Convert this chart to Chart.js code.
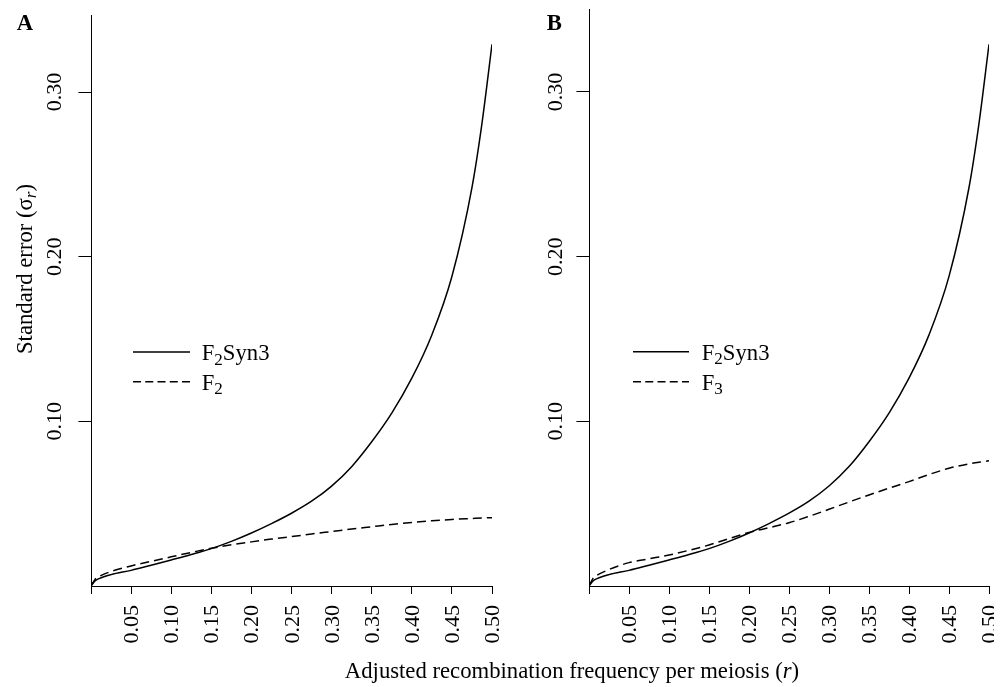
<!DOCTYPE html>
<html><head><meta charset="utf-8">
<script src="https://cdn.jsdelivr.net/npm/chart.js@4.4.1/dist/chart.umd.min.js"></script>
<style>
html,body{margin:0;padding:0;background:#fff;}
#wrap{position:relative;width:1006px;height:687px;overflow:hidden;background:#fff;}
canvas{position:absolute;top:0;}
#xlab{position:absolute;left:272px;width:600px;top:660px;text-align:center;font-family:"Liberation Serif","Times New Roman",serif;font-size:22.7px;line-height:1;color:#000;white-space:nowrap;}
</style></head><body>
<div id="wrap">
<canvas id="cA" width="500" height="687" style="left:0px"></canvas>
<canvas id="cB" width="494" height="687" style="left:500px"></canvas>
<div id="xlab">Adjusted recombination frequency per meiosis (<i>r</i>)</div>
</div>
<script>
// ---- data ----
const rValues = [0, 0.005, 0.01, 0.025, 0.05, 0.075, 0.1, 0.125, 0.15, 0.175, 0.2, 0.225, 0.25, 0.275, 0.3, 0.325, 0.35, 0.375, 0.4, 0.425, 0.45, 0.475, 0.4875, 0.5];
const f2syn3 = [0, 0.0031, 0.0045, 0.0069, 0.0095, 0.0126, 0.0158, 0.0191, 0.0227, 0.0271, 0.0322, 0.0379, 0.0442, 0.0515, 0.0607, 0.0725, 0.0876, 0.1050, 0.1262, 0.1525, 0.1880, 0.2420, 0.2810, 0.3290];
const f2 = [0, 0.0040, 0.0057, 0.0088, 0.0122, 0.0150, 0.0177, 0.0204, 0.0229, 0.0250, 0.0268, 0.0285, 0.0300, 0.0316, 0.0331, 0.0346, 0.0360, 0.0374, 0.0386, 0.0396, 0.0404, 0.0410, 0.0413, 0.0415];
const f3 = [0, 0.0046, 0.0065, 0.0100, 0.0142, 0.0165, 0.0188, 0.0217, 0.0249, 0.0288, 0.0325, 0.0354, 0.0384, 0.0423, 0.0466, 0.0510, 0.0553, 0.0594, 0.0634, 0.0677, 0.0715, 0.0742, 0.0752, 0.0760];
const xTickValues = [0, 0.05, 0.10, 0.15, 0.20, 0.25, 0.30, 0.35, 0.40, 0.45, 0.50];
const xTickLabels = ['', '0.05', '0.10', '0.15', '0.20', '0.25', '0.30', '0.35', '0.40', '0.45', '0.50'];
const yTickValues = [0.10, 0.20, 0.30];
const yTickLabels = ['0.10', '0.20', '0.30'];
const panelLetters = ['A', 'B'];
const legendSolid = [{t:'F'},{t:'2',sub:true},{t:'Syn3'}];
const legendDashA = [{t:'F'},{t:'2',sub:true}];
const legendDashB = [{t:'F'},{t:'3',sub:true}];
const yTitle = [{t:'Standard error (\u03C3'},{t:'r',sub:true,italic:true},{t:')'}];

// ---- drawing helpers ----
const FONT = '"Liberation Serif","Times New Roman",serif';
const LAB = 22.7, TICK = 22;
function partsWidth(ctx, parts, size){
  let w = 0;
  for (const p of parts){
    const s = p.sub ? size*0.75 : size;
    ctx.font = (p.italic?'italic ':'') + s + 'px ' + FONT;
    w += ctx.measureText(p.t).width;
  }
  return w;
}
function drawParts(ctx, parts, x, y, size){
  let cx = x;
  for (const p of parts){
    const s = p.sub ? size*0.75 : size;
    ctx.font = (p.italic?'italic ':'') + s + 'px ' + FONT;
    ctx.fillText(p.t, cx, y + (p.sub ? size*0.2 : 0));
    cx += ctx.measureText(p.t).width;
  }
}

const rstyle = {
  id: 'rstyle',
  afterDraw(chart, args, o){
    const ctx = chart.ctx, xs = chart.scales.x, ys = chart.scales.y, ca = chart.chartArea;
    ctx.save();
    ctx.fillStyle = '#000'; ctx.strokeStyle = '#000';
    // x tick labels (rotated)
    ctx.font = TICK + 'px ' + FONT;
    ctx.textAlign = 'right'; ctx.textBaseline = 'alphabetic';
    xTickValues.forEach((v,i)=>{
      const lbl = xTickLabels[i]; if (!lbl) return;
      const px = xs.getPixelForValue(v);
      ctx.save(); ctx.translate(px + 7, ca.bottom + 19); ctx.rotate(-Math.PI/2); ctx.fillText(lbl, 0, 0); ctx.restore();
    });
    // y tick labels (rotated)
    ctx.textAlign = 'center';
    yTickValues.forEach((v,i)=>{
      const py = ys.getPixelForValue(v);
      ctx.save(); ctx.translate(ca.left - o.yLabOff, py); ctx.rotate(-Math.PI/2); ctx.fillText(yTickLabels[i], 0, 0); ctx.restore();
    });
    // panel letter
    ctx.textAlign = 'left';
    ctx.font = 'bold ' + LAB + 'px ' + FONT;
    ctx.fillText(o.letter, o.letterX, 30);
    // y title
    if (o.yTitle){
      ctx.save(); ctx.translate(31.7, 269); ctx.rotate(-Math.PI/2);
      const w = partsWidth(ctx, yTitle, LAB);
      drawParts(ctx, yTitle, -w/2, 0, LAB);
      ctx.restore();
    }
    // legend
    const L = o.legend;
    ctx.lineWidth = 1.5;
    ctx.beginPath(); ctx.setLineDash([]); ctx.moveTo(L.x0, L.y1); ctx.lineTo(L.x1, L.y1); ctx.stroke();
    ctx.beginPath(); ctx.setLineDash([8,4.25]); ctx.moveTo(L.x0, L.y2); ctx.lineTo(L.x1, L.y2); ctx.stroke();
    ctx.setLineDash([]);
    drawParts(ctx, legendSolid, L.tx, L.y1 + 8, LAB);
    drawParts(ctx, o.dashParts, L.tx, L.y2 + 8, LAB);
    ctx.restore();
  }
};

function makeChart(id, dashed, o){
  const pts = arr => rValues.map((r,i)=>({x:r, y:arr[i]}));
  return new Chart(document.getElementById(id), {
    type: 'line',
    data: { datasets: [
      {data: pts(f2syn3), borderColor:'#000', borderWidth:1.5, pointRadius:0, cubicInterpolationMode:'monotone', fill:false},
      {data: pts(dashed), borderColor:'#000', borderWidth:1.5, pointRadius:0, cubicInterpolationMode:'monotone', fill:false, borderDash:[9,5]}
    ]},
    options: {
      responsive:false, animation:false, devicePixelRatio:1,
      layout:{padding:{left:0, top:o.top, right:o.padRight, bottom:0}},
      plugins:{legend:{display:false}, tooltip:{enabled:false}, rstyle:o},
      scales:{
        x:{type:'linear', min:0, max:0.5,
           afterBuildTicks: s=>{ s.ticks = xTickValues.map(v=>({value:v})); },
           afterFit: s=>{ s.height = 101; },
           ticks:{display:false},
           grid:{display:true, drawOnChartArea:false, drawTicks:true, tickLength:8, color:'#000', lineWidth:1},
           border:{display:true, color:'#000', width:1}},
        y:{type:'linear', min:0, max:o.ymax,
           afterBuildTicks: s=>{ s.ticks = yTickValues.map(v=>({value:v})); },
           afterFit: s=>{ s.width = o.left; },
           ticks:{display:false},
           grid:{display:true, drawOnChartArea:false, drawTicks:true, tickLength:12.6, color:'#000', lineWidth:1},
           border:{display:true, color:'#000', width:1}}
      }
    },
    plugins:[rstyle]
  });
}

makeChart('cA', f2, {top:15, padRight:8, left:91, ymax:0.3468, yLabOff:30, letter:panelLetters[0], letterX:16.7, yTitle:true,
  legend:{x0:133, x1:190, tx:201.7, y1:352, y2:381.7}, dashParts:legendDashA});
makeChart('cB', f3, {top:9, padRight:5, left:89, ymax:0.3504, yLabOff:27.5, letter:panelLetters[1], letterX:46.7, yTitle:false,
  legend:{x0:133, x1:189, tx:201.7, y1:351.7, y2:381.7}, dashParts:legendDashB});
</script>
</body></html>
